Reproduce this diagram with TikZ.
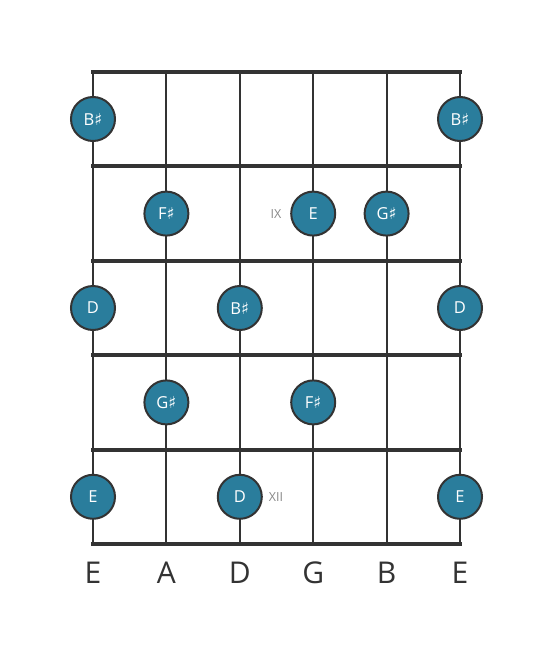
\documentclass[tikz,border=0pt]{standalone}
\usepackage{fontspec}
\setmainfont{Open Sans}
\newfontfamily\symfont{DejaVu Sans}
\definecolor{linec}{HTML}{333333}
\definecolor{notec}{HTML}{2A7D9C}
\definecolor{fretlbl}{HTML}{888888}
\newcommand{\shp}{{\symfont\char"266F}}
\begin{document}
\begin{tikzpicture}[x=1pt,y=-1pt,
  fretline/.style={line width=4pt,draw=linec},
  stringline/.style={line width=2pt,draw=linec},
  note/.style={circle,fill=notec,draw=linec,line width=2pt,minimum size=44pt,inner sep=0pt,text=white,font=\fontsize{16.5}{16.5}\selectfont},
  fretnum/.style={text=fretlbl,font=\fontsize{12.5}{12.5}\selectfont},
  strlbl/.style={text=linec,font=\fontsize{30}{30}\selectfont}]
\useasboundingbox (0,0) rectangle (553,656);
% strings
\foreach \x in {93,166.4,239.8,313.2,386.6,460}
  \draw[stringline] (\x,72) -- (\x,544);
% frets
\foreach \y in {72,166.4,260.8,355.2,449.6,544}
  \draw[fretline] (91,\y) -- (462,\y);
% notes
\node[note] (n1) at (93,119) {B\shp};
\node[note] (n2) at (460,119) {B\shp};
\node[note] (n3) at (166.4,213.6) {F\shp};
\node[note] (n4) at (313.2,213.6) {E};
\node[note] (n5) at (386.6,213.6) {G\shp};
\node[note] (n6) at (93,308) {D};
\node[note] (n7) at (239.8,308) {B\shp};
\node[note] (n8) at (460,308) {D};
\node[note] (n9) at (166.4,402.4) {G\shp};
\node[note] (n10) at (313.2,402.4) {F\shp};
\node[note] (n11) at (93,496.8) {E};
\node[note] (n12) at (239.8,496.8) {D};
\node[note] (n13) at (460,496.8) {E};
% fret numbers
\node[fretnum] (f9) at (276,214) {IX};
\node[fretnum] (f12) at (276,497) {XII};
% string labels
\node[strlbl] (s1) at (93,573) {E};
\node[strlbl] (s2) at (166.4,573) {A};
\node[strlbl] (s3) at (239.8,573) {D};
\node[strlbl] (s4) at (313.2,573) {G};
\node[strlbl] (s5) at (386.6,573) {B};
\node[strlbl] (s6) at (460,573) {E};
\end{tikzpicture}
\end{document}
